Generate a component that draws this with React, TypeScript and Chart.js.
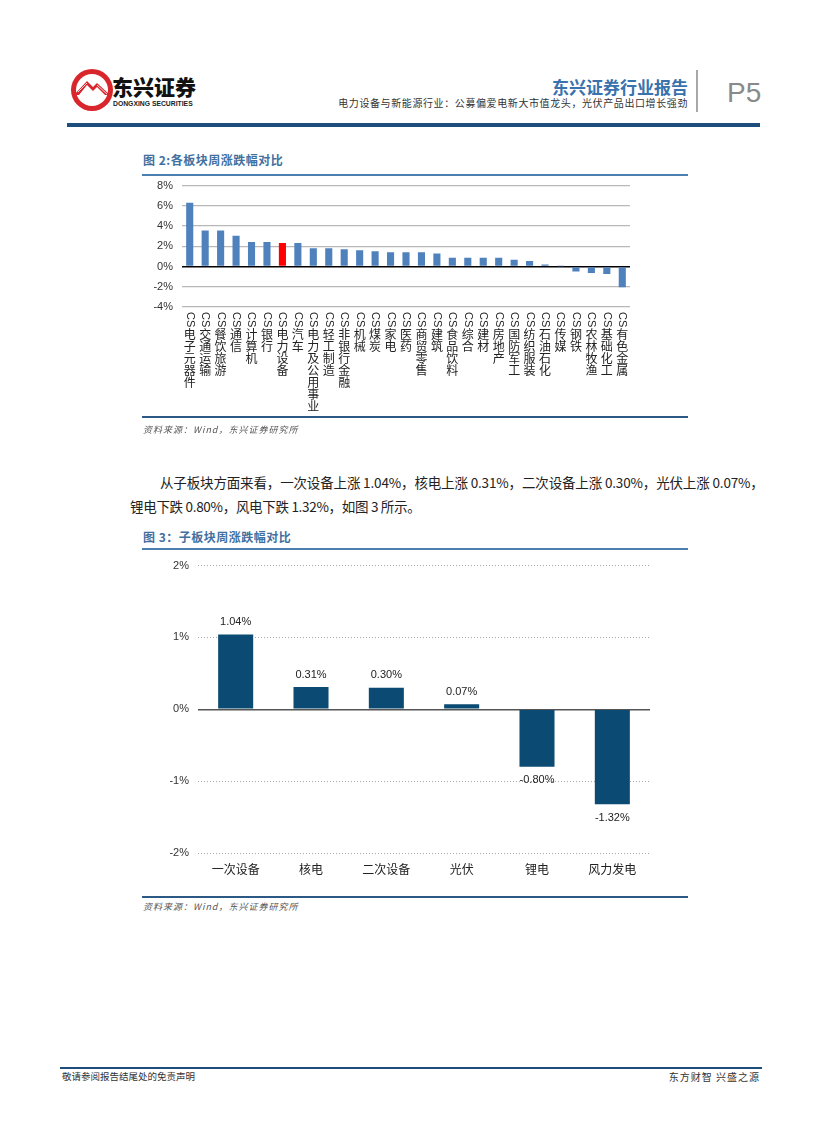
import React, { useEffect, useRef } from 'react';
import { Chart, registerables } from 'chart.js';

Chart.register(...registerables);

// ---------- Data: 图2 各板块周涨跌幅对比 ----------
const sectors = [
  '电子元器件', '交通运输', '餐饮旅游', '通信', '计算机', '银行', '电力设备', '汽车',
  '电力及公用事业', '轻工制造', '非银行金融', '机械', '煤炭', '家电', '医药', '商贸零售',
  '建筑', '食品饮料', '综合', '建材', '房地产', '国防军工', '纺织服装', '石油石化',
  '传媒', '钢铁', '农林牧渔', '基础化工', '有色金属',
];
const sectorChange = [
  6.3, 3.55, 3.55, 3.05, 2.42, 2.42, 2.32, 2.32,
  1.8, 1.8, 1.7, 1.6, 1.5, 1.4, 1.4, 1.4,
  1.28, 0.88, 0.88, 0.88, 0.88, 0.66, 0.55, 0.2,
  0.02, -0.48, -0.64, -0.74, -2.06,
];
const sectorPrefix = 'CS';
const highlightSector = '电力设备';
const sectorAxisMin = -4;
const sectorAxisMax = 8;
const sectorAxisStep = 2;

// ---------- Data: 图3 子板块周涨跌幅对比 ----------
const subSectors = ['一次设备', '核电', '二次设备', '光伏', '锂电', '风力发电'];
const subSectorChange = [1.04, 0.31, 0.3, 0.07, -0.8, -1.32];
const subAxisMin = -2;
const subAxisMax = 2;
const subAxisStep = 1;

const LATIN = '"Liberation Sans", Arial, "Noto Sans CJK SC", sans-serif';
const CJK = '"Noto Sans CJK SC", "Liberation Sans", sans-serif';

function SectorChart() {
  const ref = useRef<HTMLCanvasElement>(null);
  useEffect(() => {
    if (!ref.current) return;
    const verticalLabels = {
      id: 'verticalLabels',
      afterDraw(chart: any) {
        const ctx = chart.ctx;
        const xs = chart.scales.x;
        const top = chart.chartArea.bottom + 5;
        ctx.save();
        ctx.fillStyle = '#222';
        sectors.forEach((name, i) => {
          const x = xs.getPixelForValue(i);
          ctx.font = '11px ' + LATIN;
          const w = ctx.measureText(sectorPrefix).width;
          ctx.save();
          ctx.translate(x, top);
          ctx.rotate(Math.PI / 2);
          ctx.textAlign = 'left';
          ctx.textBaseline = 'middle';
          ctx.fillText(sectorPrefix, 0, 0);
          ctx.restore();
          ctx.font = '12px ' + CJK;
          ctx.textAlign = 'center';
          ctx.textBaseline = 'top';
          Array.from(name).forEach((ch, j) => {
            ctx.fillText(ch, x, top + w + 1 + j * 12);
          });
        });
        ctx.restore();
      },
    };
    const chart = new Chart(ref.current, {
      type: 'bar',
      data: {
        labels: sectors,
        datasets: [
          {
            data: sectorChange,
            backgroundColor: sectors.map((s) => (s === highlightSector ? '#ff0000' : '#4f81bd')),
            barPercentage: 0.46,
            categoryPercentage: 1,
          },
        ],
      },
      options: {
        responsive: false,
        animation: false,
        events: [],
        layout: { padding: { top: 0, right: 2, left: 0, bottom: 0 } },
        plugins: { legend: { display: false }, tooltip: { enabled: false } },
        scales: {
          x: {
            grid: { display: false, drawTicks: false },
            border: { display: false },
            ticks: { display: false },
            afterFit: (s: any) => {
              s.height = 111;
            },
          },
          y: {
            min: sectorAxisMin,
            max: sectorAxisMax,
            ticks: {
              stepSize: sectorAxisStep,
              callback: (v: any) => v + '%',
              color: '#333',
              font: { size: 11, family: LATIN },
              padding: 9,
            },
            grid: {
              color: (c: any) => (c.tick && c.tick.value === 0 ? '#000' : '#b8b8b8'),
              lineWidth: (c: any) => (c.tick && c.tick.value === 0 ? 1.6 : 1.2),
              drawTicks: false,
            },
            border: { display: false },
            afterFit: (s: any) => {
              s.width = 42;
            },
          },
        },
      },
      plugins: [verticalLabels],
    } as any);
    return () => chart.destroy();
  }, []);
  return (
    <canvas
      ref={ref}
      width={492}
      height={248}
      style={{ position: 'absolute', left: 140, top: 170, width: 492, height: 248 }}
    />
  );
}

function SubSectorChart() {
  const ref = useRef<HTMLCanvasElement>(null);
  useEffect(() => {
    if (!ref.current) return;
    const valueLabels = {
      id: 'valueLabels',
      afterDatasetsDraw(chart: any) {
        const ctx = chart.ctx;
        const meta = chart.getDatasetMeta(0);
        ctx.save();
        ctx.fillStyle = '#222';
        ctx.font = '11px ' + LATIN;
        ctx.textAlign = 'center';
        meta.data.forEach((bar: any, i: number) => {
          const v = subSectorChange[i];
          const text = v.toFixed(2) + '%';
          if (v >= 0) {
            ctx.textBaseline = 'bottom';
            ctx.fillText(text, bar.x, bar.y - 7);
          } else {
            ctx.textBaseline = 'top';
            ctx.fillText(text, bar.x, bar.y + 8);
          }
        });
        ctx.restore();
      },
    };
    const dash = (c: any) => (c.tick && c.tick.value === 0 ? [] : [1, 2]);
    const chart = new Chart(ref.current, {
      type: 'bar',
      data: {
        labels: subSectors,
        datasets: [
          {
            data: subSectorChange,
            backgroundColor: '#0b4a72',
            barPercentage: 0.465,
            categoryPercentage: 1,
          },
        ],
      },
      options: {
        responsive: false,
        animation: false,
        events: [],
        layout: { padding: { top: 0, right: 2, left: 0, bottom: 0 } },
        plugins: { legend: { display: false }, tooltip: { enabled: false } },
        scales: {
          x: {
            grid: { display: false, drawTicks: false },
            border: { display: false },
            ticks: { color: '#222', font: { size: 12, family: CJK }, padding: 9, maxRotation: 0 },
            afterFit: (s: any) => {
              s.height = 30;
            },
          },
          y: {
            min: subAxisMin,
            max: subAxisMax,
            ticks: {
              stepSize: subAxisStep,
              callback: (v: any) => v + '%',
              color: '#333',
              font: { size: 11, family: LATIN },
              padding: 9,
            },
            grid: {
              color: (c: any) => (c.tick && c.tick.value === 0 ? '#555' : '#aaaaaa'),
              lineWidth: (c: any) => (c.tick && c.tick.value === 0 ? 1.5 : 1),
              drawTicks: false,
            },
            border: { display: false, dash: dash },
            afterFit: (s: any) => {
              s.width = 58;
            },
          },
        },
      },
      plugins: [valueLabels],
    } as any);
    return () => chart.destroy();
  }, []);
  return (
    <canvas
      ref={ref}
      width={512}
      height={333}
      style={{ position: 'absolute', left: 140, top: 550, width: 512, height: 333 }}
    />
  );
}

function Logo() {
  return (
    <svg
      width={44}
      height={44}
      viewBox="0 0 44 44"
      style={{ position: 'absolute', left: 70, top: 68 }}
    >
      <circle cx={22} cy={22} r={21} fill="#d9262c" />
      <circle cx={22} cy={22} r={16} fill="#fff" />
      <path d="M4 27 L17 13 L23 19 L27 15 L40 27 L35 27 L27 19 L23 23 L17 17 L9 27 Z" fill="#d9262c" />
      <path d="M8 24 L17 15 M11 26 L17 19.5 M27 17 L37 26" stroke="#fff" strokeWidth={0.8} />
    </svg>
  );
}

const abs = (s: React.CSSProperties): React.CSSProperties => ({ position: 'absolute', ...s });

export default function App() {
  return (
    <div
      style={{
        position: 'absolute',
        left: 0,
        top: 0,
        width: 827,
        height: 1122,
        background: '#fff',
        fontFamily: CJK,
        overflow: 'hidden',
      }}
    >
      {/* Header */}
      <Logo />
      <div style={abs({ left: 112, top: 76, fontSize: 21, fontWeight: 900, lineHeight: 1, color: '#111' })}>
        东兴证券
      </div>
      <div style={abs({ left: 113, top: 101, fontSize: 6.8, fontWeight: 700, lineHeight: 1, color: '#222', fontFamily: LATIN })}>
        DONGXING SECURITIES
      </div>
      <div style={abs({ left: 540, width: 148, textAlign: 'right', top: 78, fontSize: 17, fontWeight: 700, lineHeight: 1, color: '#3a72ad' })}>
        东兴证券行业报告
      </div>
      <div style={abs({ left: 300, width: 388, textAlign: 'right', top: 98, fontSize: 10, lineHeight: 1, color: '#333', letterSpacing: 0.6, whiteSpace: 'nowrap' })}>
        电力设备与新能源行业：公募偏爱电新大市值龙头，光伏产品出口增长强劲
      </div>
      <div style={abs({ left: 696, top: 70, width: 2, height: 42, background: '#a8a8a8' })} />
      <div style={abs({ left: 727, top: 79, fontSize: 28, lineHeight: 1, color: '#8a8a8a', fontFamily: LATIN })}>P5</div>
      <div style={abs({ left: 67, top: 123, width: 693, height: 4, background: '#1d4d7a' })} />

      {/* Figure 2 */}
      <div style={abs({ left: 143, top: 154, fontSize: 12, fontWeight: 700, lineHeight: 1, color: '#41709f', letterSpacing: 0.5, whiteSpace: 'nowrap' })}>
        图 2:各板块周涨跌幅对比
      </div>
      <div style={abs({ left: 142, top: 174, width: 546, height: 1.5, background: '#4a7fb0' })} />
      <SectorChart />
      <div style={abs({ left: 142, top: 416, width: 546, height: 1.5, background: '#2c5884' })} />
      <div style={abs({ left: 143, top: 425, fontSize: 9, lineHeight: 1, color: '#555', fontStyle: 'italic', letterSpacing: 1, whiteSpace: 'nowrap' })}>
        资料来源：Wind，东兴证券研究所
      </div>

      {/* Paragraph */}
      <div
        style={abs({
          left: 160,
          top: 476,
          fontSize: 13.5,
          letterSpacing: -0.15,
          lineHeight: 1,
          color: '#222',
          whiteSpace: 'nowrap',
        })}
      >
        从子板块方面来看，一次设备上涨 1.04%，核电上涨 0.31%，二次设备上涨 0.30%，光伏上涨 0.07%，
      </div>
      <div style={abs({ left: 130, top: 500, fontSize: 13.5, letterSpacing: -0.3, lineHeight: 1, color: '#222', whiteSpace: 'nowrap' })}>
        锂电下跌 0.80%，风电下跌 1.32%，如图 3 所示。
      </div>

      {/* Figure 3 */}
      <div style={abs({ left: 143, top: 531, fontSize: 12, fontWeight: 700, lineHeight: 1, color: '#41709f', letterSpacing: 0.5, whiteSpace: 'nowrap' })}>
        图 3：子板块周涨跌幅对比
      </div>
      <div style={abs({ left: 142, top: 548, width: 546, height: 1.5, background: '#4a7fb0' })} />
      <SubSectorChart />
      <div style={abs({ left: 142, top: 896, width: 546, height: 1.5, background: '#2c5884' })} />
      <div style={abs({ left: 143, top: 902, fontSize: 9, lineHeight: 1, color: '#555', fontStyle: 'italic', letterSpacing: 1, whiteSpace: 'nowrap' })}>
        资料来源：Wind，东兴证券研究所
      </div>

      {/* Footer */}
      <div style={abs({ left: 60, top: 1067, width: 702, height: 1.5, background: '#1d4d7a' })} />
      <div style={abs({ left: 62, top: 1072, fontSize: 9.5, lineHeight: 1, color: '#333', whiteSpace: 'nowrap' })}>
        敬请参阅报告结尾处的免责声明
      </div>
      <div style={abs({ left: 560, width: 200, textAlign: 'right', top: 1072, fontSize: 10, lineHeight: 1, color: '#333', letterSpacing: 1, whiteSpace: 'nowrap' })}>
        东方财智 兴盛之源
      </div>
    </div>
  );
}
